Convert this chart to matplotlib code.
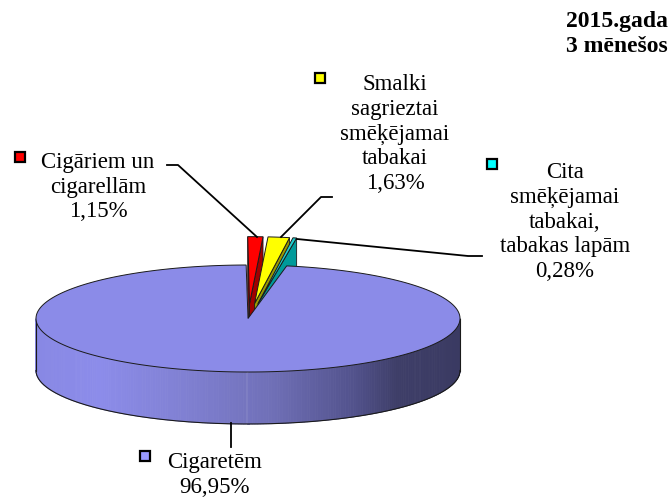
import numpy as np
import matplotlib
matplotlib.use("Agg")
import matplotlib.pyplot as plt
from matplotlib.patches import Polygon, Rectangle

# ---------------- data ----------------
categories = ["Cigāriem un\ncigarellām",
              "Smalki\nsagrieztai\nsmēķējamai\ntabakai",
              "Cita\nsmēķējamai\ntabakai,\ntabakas lapām",
              "Cigaretēm"]
shares = [1.15, 1.63, 0.28, 96.95]
share_labels = ["1,15%", "1,63%", "0,28%", "96,95%"]
top_colors = ["#FF0000", "#FFFF00", "#1ECFCF", "#8B8BE8"]
wall_colors = ["#A00000", "#9A9A00", "#009A9A", "#7070B8"]
legend_colors = ["#FF0000", "#FFFF00", "#00FFFF", "#9999FF"]
explode = [1, 1, 1, 0]
title_lines = ["2015.gada", "3 mēnešos"]

# ---------------- figure ----------------
W, H = 670, 498
fig = plt.figure(figsize=(6.7, 4.98), dpi=100)
ax = fig.add_axes([0, 0, 1, 1])
ax.set_xlim(0, W)
ax.set_ylim(H, 0)
ax.axis("off")

SERIF = ["Liberation Serif", "DejaVu Serif"]
FS = 16.5
EDGE = "#1a1a1a"

cx, cy, rx, ry, depth = 248, 318.5, 212, 53.5, 52
start_angle = -0.5
ex, ey = 0.27, 0.28
ry_exploded = 1.25


def pt(theta, r=1.0, dx=0.0, dy=0.0, z=0.0, yscale=1.0):
    t = np.radians(theta)
    return (cx + dx + r * rx * np.sin(t),
            cy + dy - r * ry * yscale * np.cos(t) + z)


def side_color(x):
    t = (x - (cx - rx)) / (2 * rx)
    tp = [0.0, 0.15, 0.35, 0.55, 0.75, 0.85, 1.0]
    r = np.interp(t, tp, [136, 140, 128, 112, 82, 62, 58])
    g = r
    b = np.interp(t, tp, [228, 234, 210, 184, 140, 104, 98])
    return (r / 255, g / 255, b / 255)


total = sum(shares)
angles = []
a = start_angle
for v in shares:
    span = 360.0 * v / total
    angles.append((a, a + span))
    a += span


def draw_slice(i, zbase):
    t0, t1 = angles[i]
    mid = np.radians((t0 + t1) / 2)
    if explode[i]:
        dx = ex * rx * np.sin(mid)
        dy = -ey * ry * np.cos(mid)
        ys = ry_exploded
    else:
        dx = dy = 0.0
        ys = 1.0
    c_top = (cx + dx, cy + dy)
    c_bot = (cx + dx, cy + dy + depth)
    z = zbase
    # outer front wall
    lo, hi = max(t0, 90), min(t1, 270)
    if hi > lo:
        ths = np.linspace(lo, hi, 240)
        for k in range(len(ths) - 1):
            p1 = pt(ths[k], 1, dx, dy, 0, ys)
            p2 = pt(ths[k + 1], 1, dx, dy, 0, ys)
            quad = [p1, p2, (p2[0], p2[1] + depth), (p1[0], p1[1] + depth)]
            col = side_color((p1[0] + p2[0]) / 2)
            ax.add_patch(Polygon(quad, closed=True, facecolor=col,
                                 edgecolor=col, lw=0.6, zorder=z))
        bot = [pt(t, 1, dx, dy, depth, ys) for t in ths]
        ax.plot([p[0] for p in bot], [p[1] for p in bot], color=EDGE,
                lw=0.8, zorder=z + 1)
        for tt in (lo, hi):
            p = pt(tt, 1, dx, dy, 0, ys)
            ax.plot([p[0], p[0]], [p[1], p[1] + depth], color=EDGE,
                    lw=0.8, zorder=z + 1)
    # radial walls
    walls = []
    if np.sin(np.radians(t0)) < 0:
        walls.append(t0)
    if np.sin(np.radians(t1)) > 0:
        walls.append(t1)
    for tw in walls:
        p = pt(tw, 1, dx, dy, 0, ys)
        quad = [c_top, p, (p[0], p[1] + depth), c_bot]
        ax.add_patch(Polygon(quad, closed=True, facecolor=wall_colors[i],
                             edgecolor=EDGE, lw=0.6, zorder=z + 1))
    # top face
    ths = np.linspace(t0, t1, max(4, int((t1 - t0) * 2)))
    poly = [c_top] + [pt(t, 1, dx, dy, 0, ys) for t in ths]
    ax.add_patch(Polygon(poly, closed=True, facecolor=top_colors[i],
                         edgecolor=EDGE, lw=0.7, zorder=z + 2))


for idx, i in enumerate([0, 1, 2, 3]):
    draw_slice(i, 10 + idx * 10)

# ---------------- labels ----------------
label_pos = [(98, 187), (395, 134), (565, 222), (215, 475)]
marker_pos = [(20, 157), (320, 78), (492, 164), (145, 456)]
for i in range(4):
    x, y = label_pos[i]
    ax.text(x, y, categories[i] + "\n" + share_labels[i], ha="center",
            va="center", multialignment="center", fontsize=FS,
            family=SERIF, linespacing=1.22, zorder=100)
    mx, my = marker_pos[i]
    s = 10
    ax.add_patch(Rectangle((mx - s / 2, my - s / 2), s, s,
                           facecolor=legend_colors[i], edgecolor="black",
                           lw=1.6, zorder=100))

ax.text(668, 34, "\n".join(title_lines), ha="right", va="center",
        multialignment="right", fontsize=17, fontweight="bold",
        family=SERIF, linespacing=1.2, zorder=100)

# leader lines
leaders = [
    [(167, 165), (178, 165), (257, 237)],
    [(332, 197), (321, 197), (281, 237)],
    [(297, 239), (468, 256), (482, 256)],
    [(231, 423), (231, 447)],
]
for seg in leaders:
    ax.plot([p[0] for p in seg], [p[1] for p in seg], color="black",
            lw=1.3, zorder=90)

fig.savefig("out.png", dpi=100)
